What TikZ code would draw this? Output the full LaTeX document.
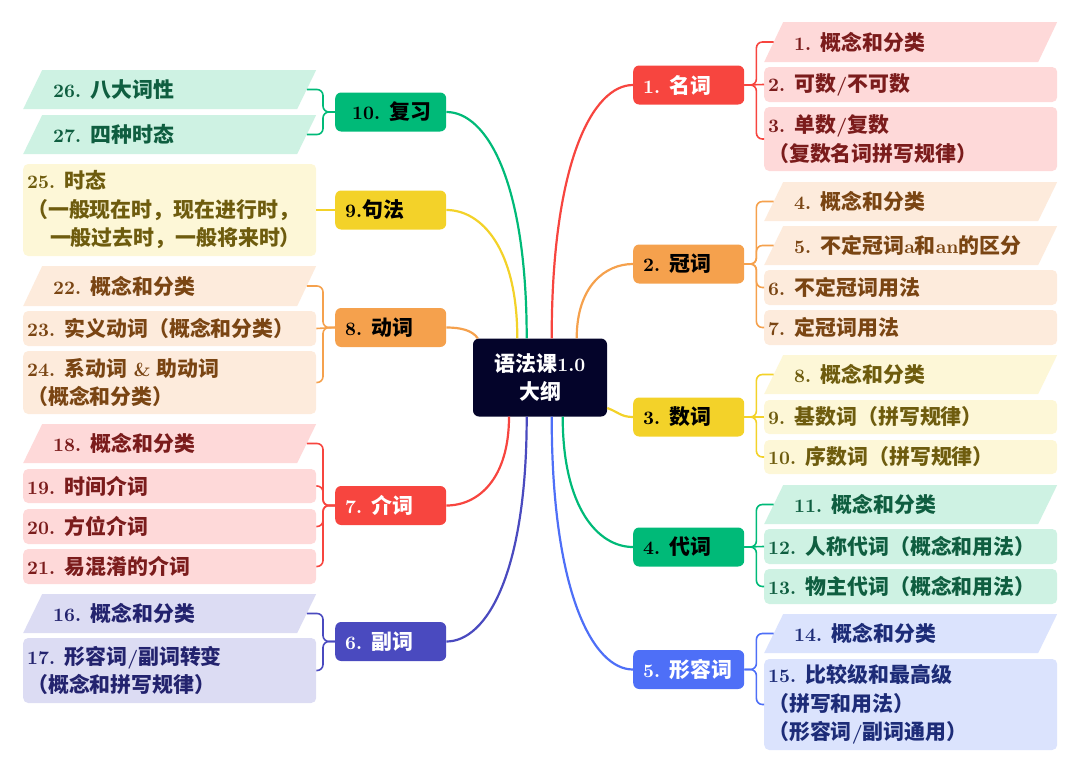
\documentclass[tikz,border=0pt]{standalone}
\usepackage{fontspec}
\newfontfamily\lmb{lmroman10-bold.otf}
\newfontfamily\cjk{Noto Sans CJK SC}[Scale=1.1]
\newcommand\C[1]{{\cjk #1}}
\usetikzlibrary{calc}
\definecolor{cred}{HTML}{F7453F}
\definecolor{corange}{HTML}{F5A14D}
\definecolor{cyellow}{HTML}{F3D229}
\definecolor{cgreen}{HTML}{00BA78}
\definecolor{cblue}{HTML}{4E6FF7}
\definecolor{cindigo}{HTML}{4A4ABF}
\definecolor{cnavy}{HTML}{04042A}
\definecolor{lred}{HTML}{FED9D9}
\definecolor{lorange}{HTML}{FDEBDC}
\definecolor{lyellow}{HTML}{FDF7D7}
\definecolor{lgreen}{HTML}{CEF2E3}
\definecolor{lblue}{HTML}{DBE3FD}
\definecolor{lindigo}{HTML}{DCDCF3}
\definecolor{tred}{HTML}{7B1C1C}
\definecolor{torange}{HTML}{7A4513}
\definecolor{tyellow}{HTML}{6E5C0E}
\definecolor{tgreen}{HTML}{0F5E40}
\definecolor{tblue}{HTML}{1D2C78}
\definecolor{tindigo}{HTML}{23236E}
\tikzset{
  txt/.style={font=\lmb\bfseries\fontsize{19}{28.5}\selectfont},
  mainbox/.style={txt, rounded corners=6pt, minimum height=39pt, text width=91pt,
    inner xsep=10pt, inner ysep=0pt, align=left, anchor=west},
  itembox/.style={txt, rounded corners=5pt, text width=285pt, inner xsep=4pt,
    inner ysep=0pt, align=left, anchor=west},
  para/.style={itembox, sharp corners, fill=white,
    path picture={\fill[#1] (path picture bounding box.south west)
      -- ([xshift=19pt]path picture bounding box.north west)
      -- (path picture bounding box.north east)
      -- ([xshift=-19pt]path picture bounding box.south east) -- cycle;},
    execute at begin node={\hspace*{26pt}}},
  cv/.style={line width=2.2pt},
  br/.style={line width=1.6pt, rounded corners=6pt},
}
\begin{document}
\begin{tikzpicture}[x=1pt,y=-1pt]
\useasboundingbox (0,0) rectangle (1080,771);

% centre
\node[txt, fill=cnavy, text=white, rounded corners=6pt, minimum width=134pt,
  minimum height=78pt, align=center, inner sep=0pt] (c) at (540,377.5)
  {\C{语法课}1.0\\\C{大纲}};

% main nodes right
\node[mainbox, fill=cred, text=white] (n1) at (633,85) {1. \C{名词}};
\node[mainbox, fill=corange, text=black] (n2) at (633,264) {2. \C{冠词}};
\node[mainbox, fill=cyellow, text=black] (n3) at (633,417) {3. \C{数词}};
\node[mainbox, fill=cgreen, text=black] (n4) at (633,547) {4. \C{代词}};
\node[mainbox, fill=cblue, text=white] (n5) at (633,669.5) {\mbox{5. \C{形容词}}};
% main nodes left
\node[mainbox, fill=cgreen, text=black] (n10) at (335,112) {\mbox{\hspace*{7pt}10. \C{复习}}};
\node[mainbox, fill=cyellow, text=black] (n9) at (335,210) {9.\C{句法}};
\node[mainbox, fill=corange, text=black] (n8) at (335,327.5) {8. \C{动词}};
\node[mainbox, fill=cred, text=white] (n7) at (335,505.5) {7. \C{介词}};
\node[mainbox, fill=cindigo, text=white] (n6) at (335,641.5) {6. \C{副词}};

% right items
\node[para=lred, text=tred, minimum height=40pt] (i1) at (764,42) {1. \C{概念和分类}};
\node[itembox, fill=lred, text=tred, minimum height=35pt] (i2) at (764,84.5) {2. \C{可数}/\C{不可数}};
\node[itembox, fill=lred, text=tred, minimum height=64pt] (i3) at (764,139) {3. \C{单数}/\C{复数}\\\C{（复数名词拼写规律）}};

\node[para=lorange, text=torange, minimum height=39pt] (i4) at (764,201.5) {4. \C{概念和分类}};
\node[para=lorange, text=torange, minimum height=39pt] (i5) at (764,245.5) {5. \C{不定冠词}a\C{和}an\C{的区分}};
\node[itembox, fill=lorange, text=torange, minimum height=35pt] (i6) at (764,287.5) {6. \C{不定冠词用法}};
\node[itembox, fill=lorange, text=torange, minimum height=35pt] (i7) at (764,327.5) {7. \C{定冠词用法}};

\node[para=lyellow, text=tyellow, minimum height=39pt] (i8) at (764,374.5) {8. \C{概念和分类}};
\node[itembox, fill=lyellow, text=tyellow, minimum height=34pt] (i9) at (764,417) {9. \C{基数词（拼写规律）}};
\node[itembox, fill=lyellow, text=tyellow, minimum height=34pt] (i10) at (764,457) {10. \C{序数词（拼写规律）}};

\node[para=lgreen, text=tgreen, minimum height=39pt] (i11) at (764,504.5) {11. \C{概念和分类}};
\node[itembox, fill=lgreen, text=tgreen, minimum height=35pt] (i12) at (764,546.5) {12. \C{人称代词（概念和用法）}};
\node[itembox, fill=lgreen, text=tgreen, minimum height=35pt] (i13) at (764,586.5) {13. \C{物主代词（概念和用法）}};

\node[para=lblue, text=tblue, minimum height=39pt] (i14) at (764,633.5) {14. \C{概念和分类}};
\node[itembox, fill=lblue, text=tblue, minimum height=91pt] (i15) at (764,704.5) {15. \C{比较级和最高级}\\\C{（拼写和用法）}\\\C{（形容词}/\C{副词通用）}};

% left items
\node[para=lgreen, text=tgreen, minimum height=39pt] (i26) at (23,89.5) {26. \C{八大词性}};
\node[para=lgreen, text=tgreen, minimum height=39pt] (i27) at (23,134.5) {27. \C{四种时态}};

\node[itembox, fill=lyellow, text=tyellow, minimum height=92pt] (i25) at (23,210) {25. \C{时态}\\\C{（一般现在时，现在进行时，}\\\hspace*{1.2em}\C{一般过去时，一般将来时）}};

\node[para=lorange, text=torange, minimum height=40pt] (i22) at (23,286) {22. \C{概念和分类}};
\node[itembox, fill=lorange, text=torange, minimum height=35pt] (i23) at (23,328.5) {23. \C{实义动词（概念和分类）}};
\node[itembox, fill=lorange, text=torange, minimum height=63pt] (i24) at (23,382.5) {24. \C{系动词} \& \C{助动词}\\\C{（概念和分类）}};

\node[para=lred, text=tred, minimum height=39pt] (i18) at (23,443.5) {18. \C{概念和分类}};
\node[itembox, fill=lred, text=tred, minimum height=34pt] (i19) at (23,486) {19. \C{时间介词}};
\node[itembox, fill=lred, text=tred, minimum height=35pt] (i20) at (23,526.5) {20. \C{方位介词}};
\node[itembox, fill=lred, text=tred, minimum height=35pt] (i21) at (23,566.5) {21. \C{易混淆的介词}};

\node[para=lindigo, text=tindigo, minimum height=39pt] (i16) at (23,613.5) {16. \C{概念和分类}};
\node[itembox, fill=lindigo, text=tindigo, minimum height=65pt] (i17) at (23,670.5) {17. \C{形容词}/\C{副词转变}\\\C{（概念和拼写规律）}};

% centre curves
\draw[cv, cred] ([xshift=11.7pt]c.north) to[out=90,in=180,out distance=177pt,in distance=40pt] (n1.west);
\draw[cv, corange] ([xshift=36.7pt]c.north) to[out=90,in=180,out distance=52pt,in distance=28pt] (n2.west);
\draw[cv, cyellow] ([yshift=8.7pt]c.south east) to[out=-20,in=180,out distance=12pt,in distance=12pt] (n3.west);
\draw[cv, cgreen] ([xshift=22.7pt]c.south) to[out=-90,in=180,out distance=91pt,in distance=35pt] (n4.west);
\draw[cv, cblue] ([xshift=11.7pt]c.south) to[out=-90,in=180,out distance=176pt,in distance=40pt] (n5.west);
\draw[cv, cindigo] ([xshift=-13.3pt]c.south) to[out=-90,in=0,out distance=157pt,in distance=40pt] (n6.east);
\draw[cv, cred] ([xshift=-31pt]c.south) to[out=-90,in=0,out distance=62pt,in distance=32pt] (n7.east);
\draw[cv, corange] (n8.east) to[out=0,in=125,out distance=14pt,in distance=10pt] ([xshift=5pt]c.north west);
\draw[cv, cyellow] ([xshift=-22.7pt]c.north) to[out=90,in=0,out distance=90pt,in distance=35pt] (n9.east);
\draw[cv, cgreen] ([xshift=-13.3pt]c.north) to[out=90,in=0,out distance=158pt,in distance=40pt] (n10.east);

% branches right
\draw[br, cred] (n1.east) -- ++(12,0) |- ([xshift=9.5pt]i1.west);
\draw[br, cred] (n1.east) -- (i2.west);
\draw[br, cred] (n1.east) -- ++(12,0) |- (i3.west);

\draw[br, corange] (n2.east) -- ++(12,0) |- ([xshift=9.5pt]i4.west);
\draw[br, corange] (n2.east) -- ++(12,0) |- ([xshift=9.5pt]i5.west);
\draw[br, corange] (n2.east) -- ++(12,0) |- (i6.west);
\draw[br, corange] (n2.east) -- ++(12,0) |- (i7.west);

\draw[br, cyellow] (n3.east) -- ++(12,0) |- ([xshift=9.5pt]i8.west);
\draw[br, cyellow] (n3.east) -- (i9.west);
\draw[br, cyellow] (n3.east) -- ++(12,0) |- (i10.west);

\draw[br, cgreen] (n4.east) -- ++(12,0) |- ([xshift=9.5pt]i11.west);
\draw[br, cgreen] (n4.east) -- (i12.west);
\draw[br, cgreen] (n4.east) -- ++(12,0) |- (i13.west);

\draw[br, cblue] (n5.east) -- ++(12,0) |- ([xshift=9.5pt]i14.west);
\draw[br, cblue] (n5.east) -- ++(12,0) |- (i15.west);

% branches left
\draw[br, cgreen] (n10.west) -- ++(-12,0) |- ([xshift=-9.5pt]i26.east);
\draw[br, cgreen] (n10.west) -- ++(-12,0) |- ([xshift=-9.5pt]i27.east);

\draw[br, cyellow] (n9.west) -- (i25.east);

\draw[br, corange] (n8.west) -- ++(-12,0) |- ([xshift=-9.5pt]i22.east);
\draw[br, corange] (n8.west) -- (i23.east);
\draw[br, corange] (n8.west) -- ++(-12,0) |- (i24.east);

\draw[br, cred] (n7.west) -- ++(-12,0) |- ([xshift=-9.5pt]i18.east);
\draw[br, cred] (n7.west) -- ++(-12,0) |- (i19.east);
\draw[br, cred] (n7.west) -- ++(-12,0) |- (i20.east);
\draw[br, cred] (n7.west) -- ++(-12,0) |- (i21.east);

\draw[br, cindigo] (n6.west) -- ++(-12,0) |- ([xshift=-9.5pt]i16.east);
\draw[br, cindigo] (n6.west) -- ++(-12,0) |- (i17.east);
\end{tikzpicture}
\end{document}
